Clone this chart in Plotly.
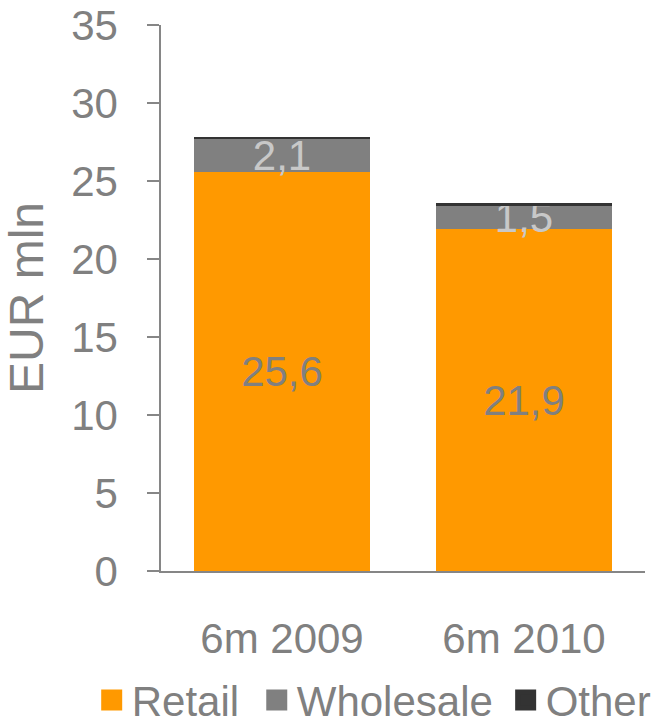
import plotly.graph_objects as go

periods = ["6m 2009", "6m 2010"]
retail = [25.6, 21.9]
wholesale = [2.1, 1.5]
other = [0.15, 0.2]

series = [
    ("Retail", retail, "#FF9900", "#808080"),
    ("Wholesale", wholesale, "#808080", "#C8C8C8"),
    ("Other", other, "#333333", None),
]

FONT = "Liberation Sans, Arial, sans-serif"
GREY = "#808080"
FS = 42

# one single-entry legend per series, laid out in a row under the axis
legend_ids = ["legend", "legend2", "legend3"]
legend_x = [0.140, 0.392, 0.772]

fig = go.Figure()
for (name, vals, color, tcol), lid in zip(series, legend_ids):
    fig.add_trace(go.Bar(
        x=periods, y=vals, name=name, marker=dict(color=color, line=dict(width=0)),
        texttemplate="%{y:.1f}" if tcol else None,
        textposition="inside" if tcol else "none",
        insidetextanchor="middle",
        constraintext="none",
        textfont=dict(size=FS, color=tcol or GREY, family=FONT),
        showlegend=False, hoverinfo="skip",
    ))
    # legend swatch (outline in the same colour enlarges the square)
    fig.add_trace(go.Scatter(
        x=[None], y=[None], mode="markers", name=name, legend=lid,
        marker=dict(symbol="square", size=16, color=color,
                    line=dict(color=color, width=5)),
    ))

legend_style = dict(orientation="h", xref="container", yref="container",
                    xanchor="left", y=0.029, yanchor="middle",
                    font=dict(size=FS, color=GREY), itemwidth=30,
                    bgcolor="rgba(0,0,0,0)")

fig.update_layout(
    width=655, height=721,
    barmode="stack", bargap=0.27,
    separators=", ",
    plot_bgcolor="white", paper_bgcolor="white",
    margin=dict(l=161, r=10, t=25, b=150, autoexpand=False),
    font=dict(family=FONT, size=FS, color=GREY),
    uniformtext=dict(minsize=FS, mode="show"),
    xaxis=dict(showline=True, linecolor="#868686", linewidth=1.5, ticks="",
               tickfont=dict(size=FS, color=GREY), ticklabelstandoff=30),
    yaxis=dict(range=[0, 35], dtick=5, showgrid=False, zeroline=False,
               showline=True, linecolor="#868686", linewidth=1.5,
               ticks="outside", ticklen=12, tickcolor="#868686", tickwidth=1.5,
               tickfont=dict(size=FS, color=GREY), ticklabelstandoff=21,
               title=dict(text="EUR mln", font=dict(size=48, color=GREY), standoff=19)),
)
for lid, lx in zip(legend_ids, legend_x):
    fig.update_layout({lid: dict(legend_style, x=lx)})

fig.write_html("out.html")
